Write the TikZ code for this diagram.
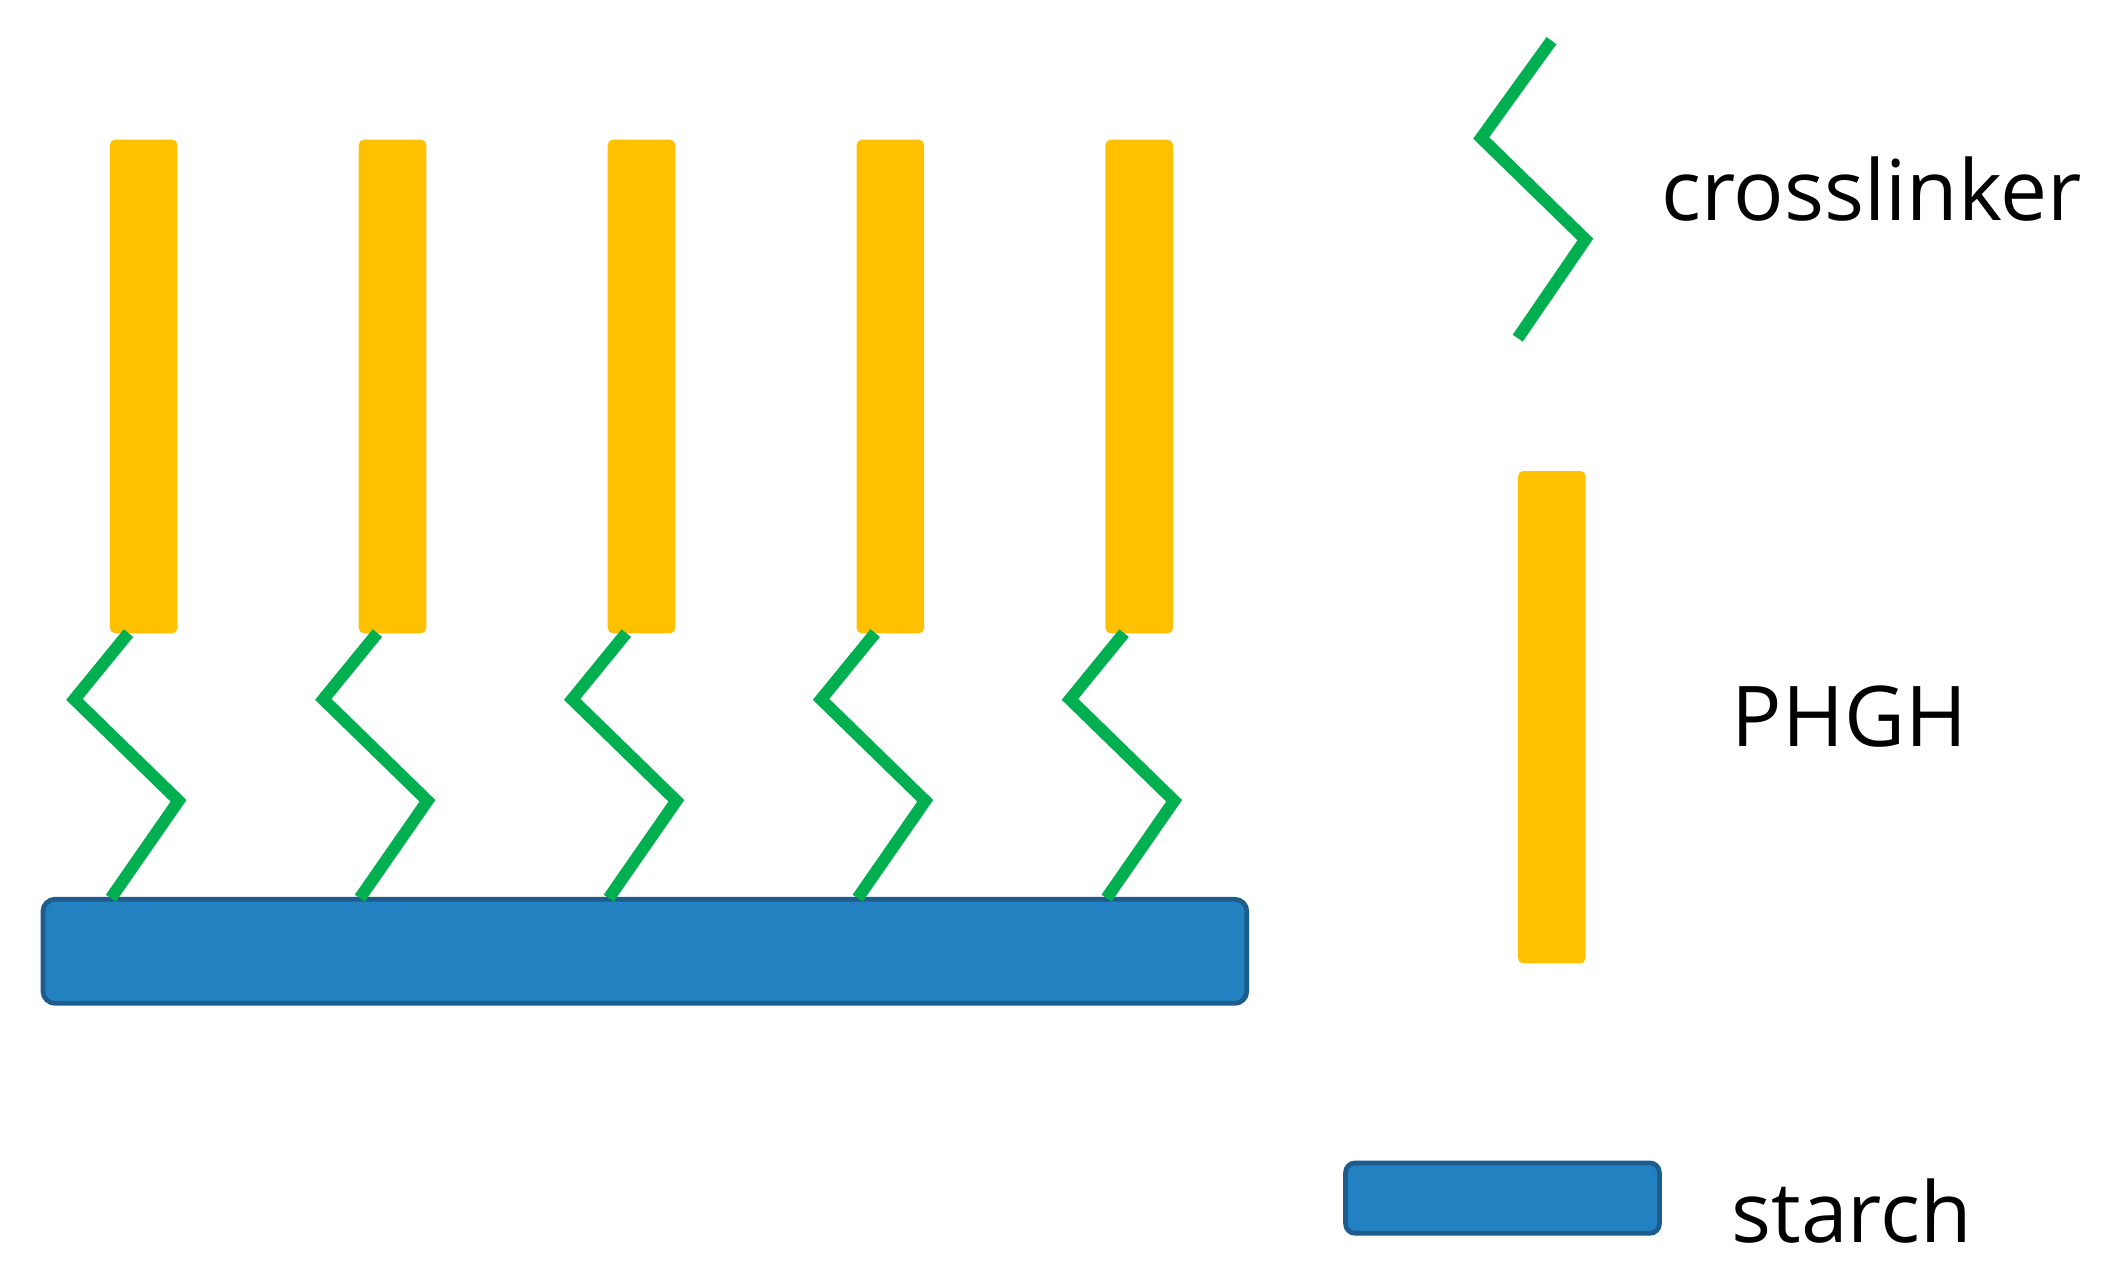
\documentclass[tikz,border=0pt]{standalone}
\usepackage{fontspec}
\setmainfont{Open Sans}
\definecolor{phgh}{HTML}{FFC000}
\definecolor{cl}{HTML}{00B050}
\definecolor{st}{HTML}{2481C1}
\definecolor{stb}{HTML}{1D5C8C}
\begin{document}
\begin{tikzpicture}[x=1pt,y=-1pt,
  bar/.style={fill=phgh,rounded corners=4pt},
  link/.style={draw=cl,line width=9pt},
  starchbox/.style={fill=st,draw=stb,line width=3.5pt,rounded corners=9pt},
  lab/.style={font=\fontsize{62}{68}\selectfont,anchor=west,inner sep=0pt}]
\useasboundingbox (0,0) rectangle (1568,940);
\node[starchbox,minimum width=890pt,minimum height=77pt,anchor=north west] (starch) at (30,663) {};
\foreach \i in {0,...,4}{
  \pgfmathsetmacro{\o}{184*\i}
  \node[bar,minimum width=50pt,minimum height=365pt,anchor=north west,inner sep=0pt] (b\i) at (81+\o,103) {};
  \draw[link] (95+\o,468) -- (55+\o,517) -- (132+\o,592) -- (82+\o,664);
}
\draw[link] (1147,30) -- (1095,102) -- (1172,177) -- (1122,250);
\node[bar,minimum width=50pt,minimum height=364pt,anchor=north west,inner sep=0pt] (lp) at (1122,348) {};
\node[starchbox,minimum width=232pt,minimum height=52pt,anchor=north west,rounded corners=7pt] (ls) at (993,858) {};
\node[lab] (t1) at (1228,140) {crosslinker};
\node[lab] (t2) at (1280,530) {PHGH};
\node[lab] (t3) at (1280,895) {starch};
\end{tikzpicture}
\end{document}
